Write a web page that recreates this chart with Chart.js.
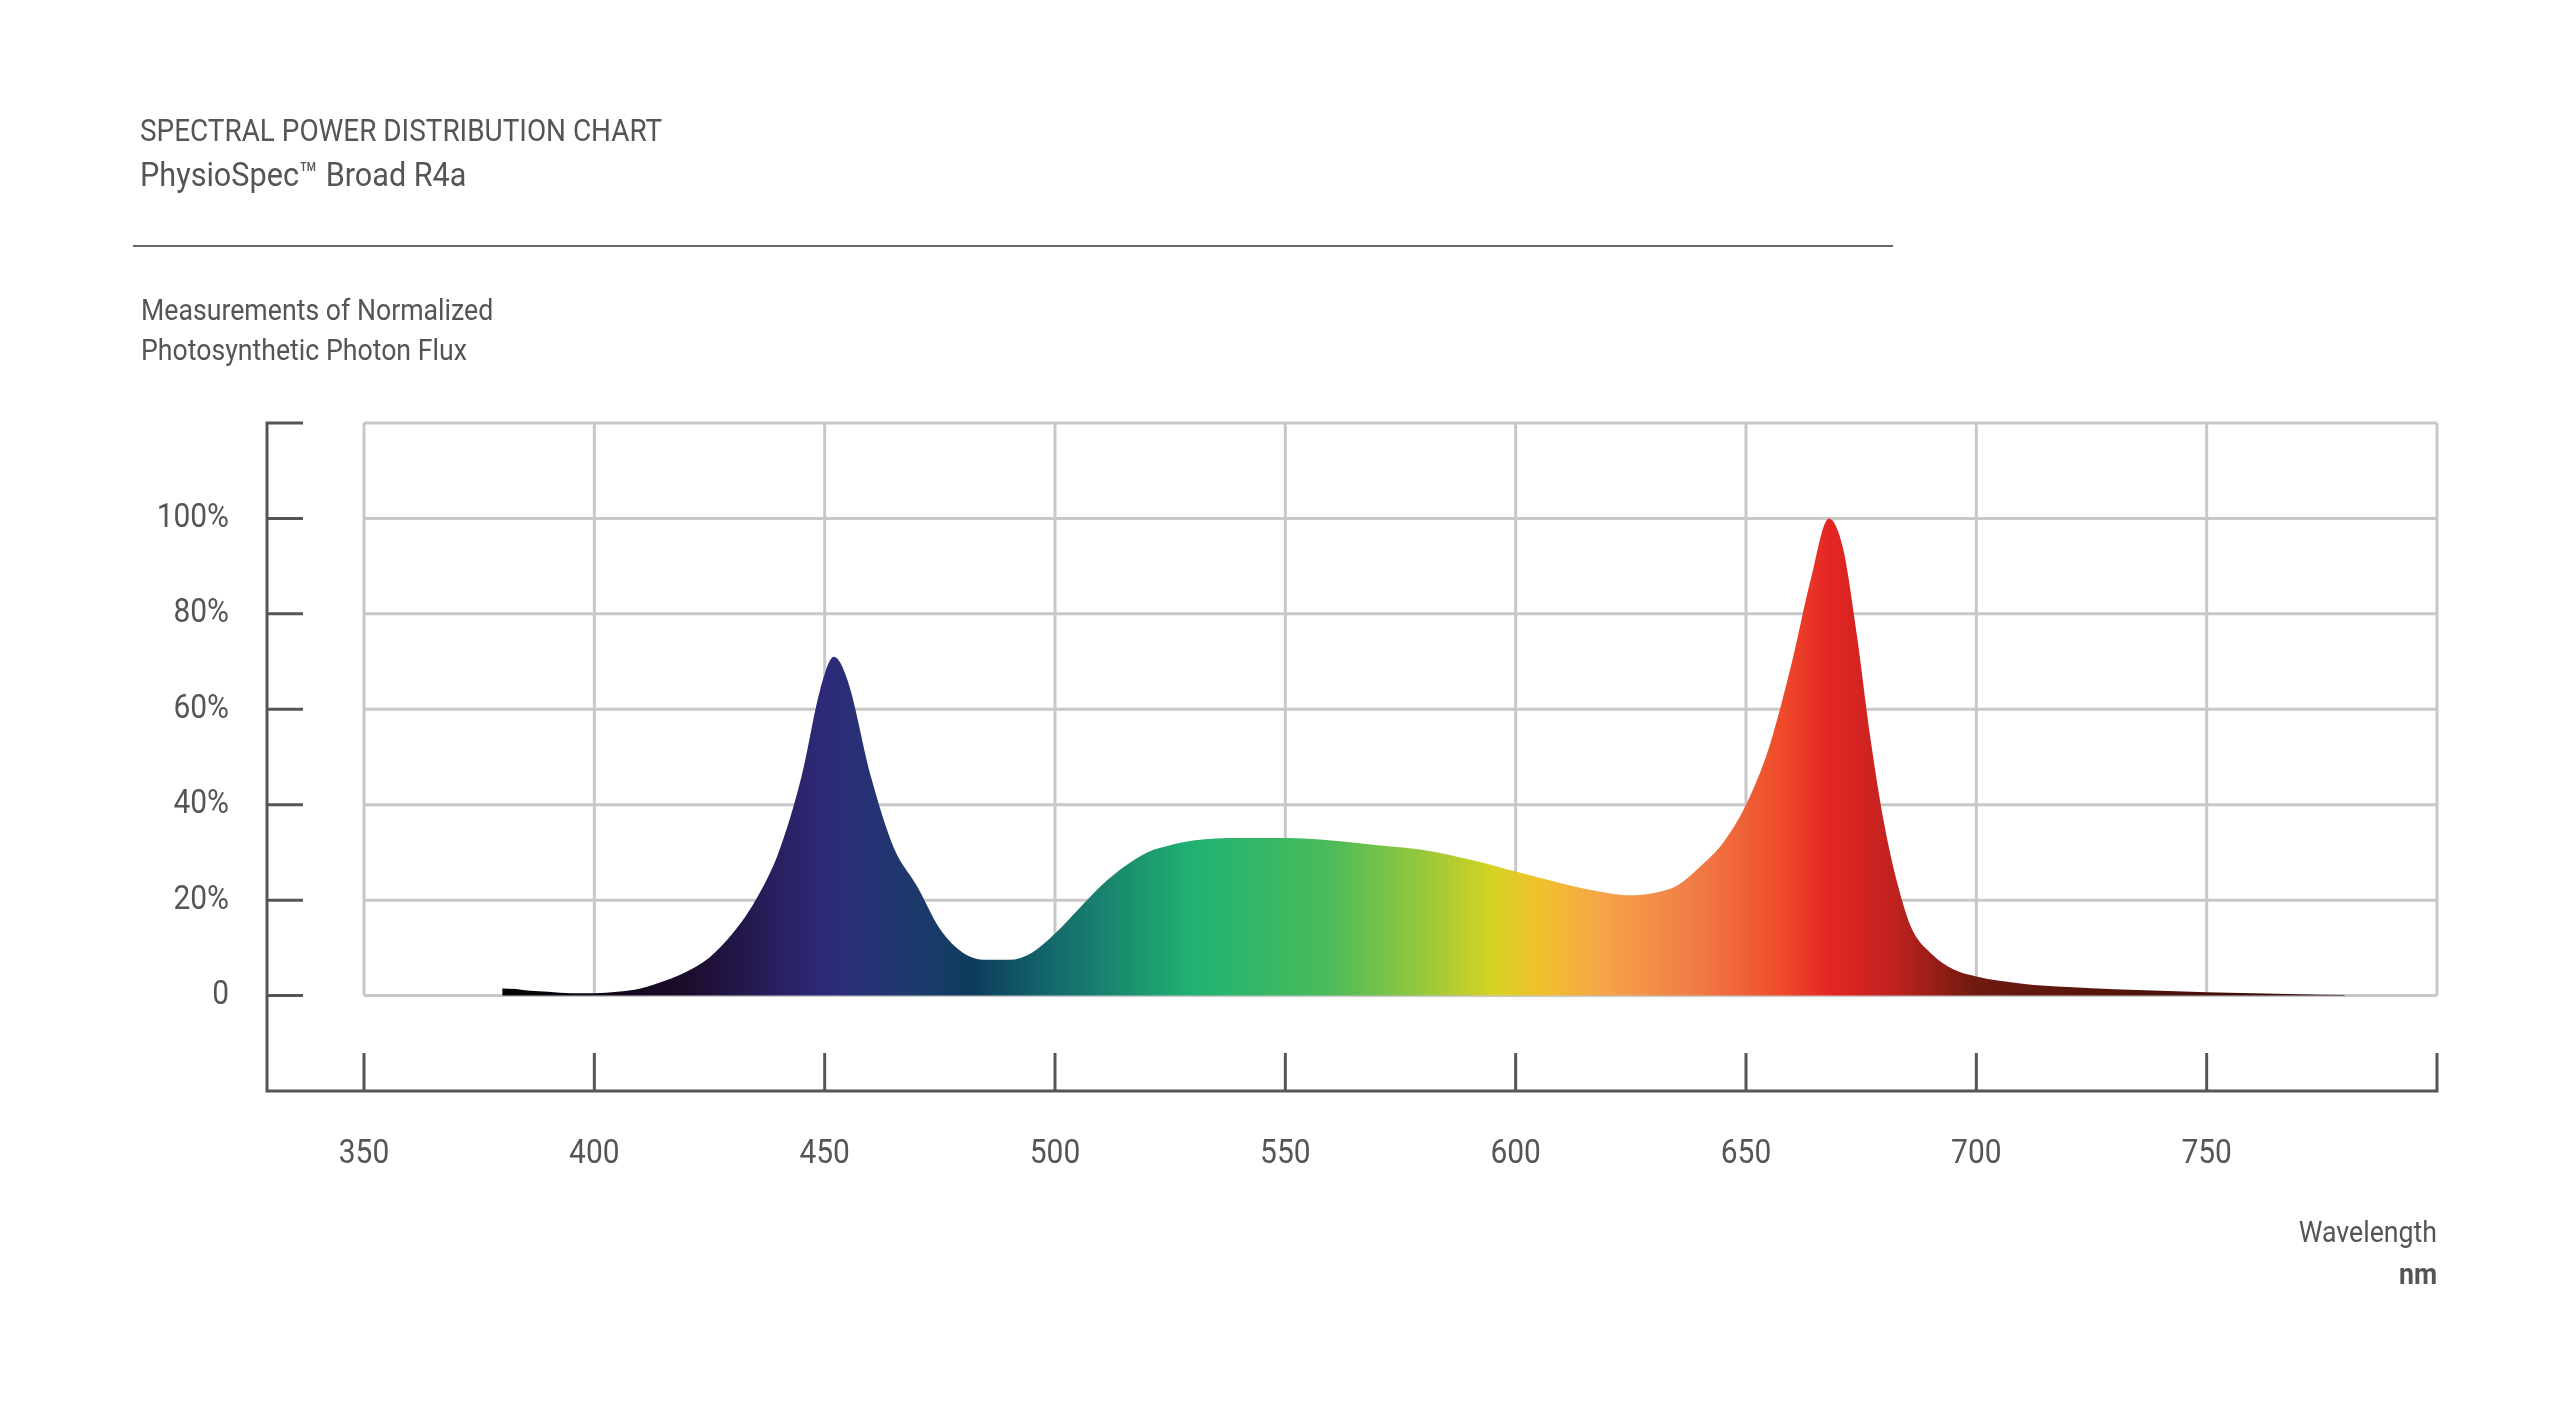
<!DOCTYPE html>
<html><head><meta charset="utf-8">
<script src="https://cdn.jsdelivr.net/npm/chart.js@4"></script>
<style>html,body{margin:0;padding:0;background:#fff}canvas{display:block}</style>
</head><body>
<canvas id="c" width="2560" height="1409" style="width:2560px;height:1409px"></canvas>
<script>
const wavelengths=[380,383,386,390,395,400,405,410,415,420,425,430,435,440,445,449,452,455,460,465,470,475,480,485,490,495,500,505,510,515,520,525,530,540,550,560,570,580,590,600,610,620,625,630,635,640,645,650,655,660,664,668,671,674,677,680,683,686,690,695,700,710,720,730,740,750,760,770,780];
const flux=[1.5,1.4,1.0,0.8,0.5,0.5,0.8,1.5,3,5,8,13,20,30,46,64,71,66,46,31,23,14,9,7.5,7.5,9,13,18,23,27,30,31.5,32.5,33,33,32.5,31.5,30.5,28.5,26,23.5,21.5,21,21.5,23,27,32,40,52,70,87,100,94,76,54,36,23,14,9,5.5,4,2.5,1.8,1.3,1,0.7,0.5,0.3,0.1];
const xTicks=[350,400,450,500,550,600,650,700,750];
const yTicks=[0,20,40,60,80,100];
const yTickLabels=['0','20%','40%','60%','80%','100%'];
const colorStops=[[380,'#000000'],[420,'#1c0c2c'],[450,'#2e2a7a'],[470,'#1d3a6c'],[482,'#0d3c5c'],[500,'#146a6c'],[530,'#20b272'],[560,'#4cbb5a'],[580,'#98c83b'],[595,'#d6d324'],[605,'#f0c12c'],[620,'#f6a24b'],[640,'#f07a45'],[658,'#ee4a2a'],[668,'#e52623'],[682,'#c0221f'],[700,'#6e1a10'],[780,'#2a0a05']];
const FONT='Roboto,"Liberation Sans",sans-serif';
function txt(c,s,x,y,sx){c.save();c.translate(x,y);c.scale(sx,1);c.fillText(s,0,0);c.restore();}
const deco={id:'deco',
 beforeDatasetsDraw(ch){
  const c=ch.ctx,x=ch.scales.x,y=ch.scales.y;
  c.save();c.strokeStyle='#c8c8c8';c.lineWidth=3;
  const top=y.getPixelForValue(120),bot=y.getPixelForValue(0);
  for(let v=350;v<=800;v+=50){const px=x.getPixelForValue(v);c.beginPath();c.moveTo(px,top);c.lineTo(px,bot);c.stroke();}
  for(let v=0;v<=120;v+=20){const py=y.getPixelForValue(v);c.beginPath();c.moveTo(x.getPixelForValue(350),py);c.lineTo(x.getPixelForValue(800),py);c.stroke();}
  c.restore();
 },
 afterDraw(ch){
  const c=ch.ctx,x=ch.scales.x,y=ch.scales.y;
  c.save();c.strokeStyle='#555';c.lineWidth=3;
  const ax=267,ay=y.getPixelForValue(-20);
  c.beginPath();c.moveTo(ax+36,y.getPixelForValue(120));c.lineTo(ax,y.getPixelForValue(120));c.lineTo(ax,ay);c.lineTo(x.getPixelForValue(800),ay);c.lineTo(x.getPixelForValue(800),ay-38);c.stroke();
  yTicks.forEach(v=>{const py=y.getPixelForValue(v);c.beginPath();c.moveTo(ax,py);c.lineTo(ax+36,py);c.stroke();});
  xTicks.forEach(v=>{const px=x.getPixelForValue(v);c.beginPath();c.moveTo(px,ay);c.lineTo(px,ay-38);c.stroke();});
  c.fillStyle='#555';c.font='34px '+FONT;c.textBaseline='middle';
  c.textAlign='right';yTicks.forEach((v,i)=>txt(c,yTickLabels[i],229,y.getPixelForValue(v),0.88));
  c.textAlign='center';xTicks.forEach(v=>txt(c,String(v),x.getPixelForValue(v),1154,0.88));
  c.textAlign='left';c.textBaseline='alphabetic';c.font='31px '+FONT;
  txt(c,'SPECTRAL POWER DISTRIBUTION CHART',140,141,0.9);
  c.font='34px '+FONT;txt(c,'PhysioSpec™ Broad R4a',140,186,0.9);
  c.font='29px '+FONT;txt(c,'Measurements of Normalized',141,320,0.92);txt(c,'Photosynthetic Photon Flux',141,360,0.92);
  c.textAlign='right';txt(c,'Wavelength',2437,1242,0.92);c.font='bold 29px '+FONT;txt(c,'nm',2437,1284,0.92);
  c.strokeStyle='#666';c.lineWidth=2;c.beginPath();c.moveTo(133,246);c.lineTo(1893,246);c.stroke();
  c.restore();
 }};
new Chart(document.getElementById('c'),{
 type:'line',
 data:{datasets:[{data:wavelengths.map((w,i)=>({x:w,y:flux[i]})),
  fill:'origin',borderWidth:0,pointRadius:0,tension:0.4,cubicInterpolationMode:'monotone',
  backgroundColor(ctx){const ch=ctx.chart;if(!ch.chartArea)return '#000';const x=ch.scales.x;
   const g=ch.ctx.createLinearGradient(x.getPixelForValue(380),0,x.getPixelForValue(780),0);
   colorStops.forEach(([w,col])=>g.addColorStop((w-380)/400,col));return g;}}]},
 options:{responsive:false,animation:false,devicePixelRatio:1,
  layout:{padding:{left:364,right:123,top:423,bottom:318}},
  plugins:{legend:{display:false},tooltip:{enabled:false}},
  scales:{x:{type:'linear',min:350,max:800,display:false},y:{min:-20,max:120,display:false}}},
 plugins:[deco]});
</script></body></html>
